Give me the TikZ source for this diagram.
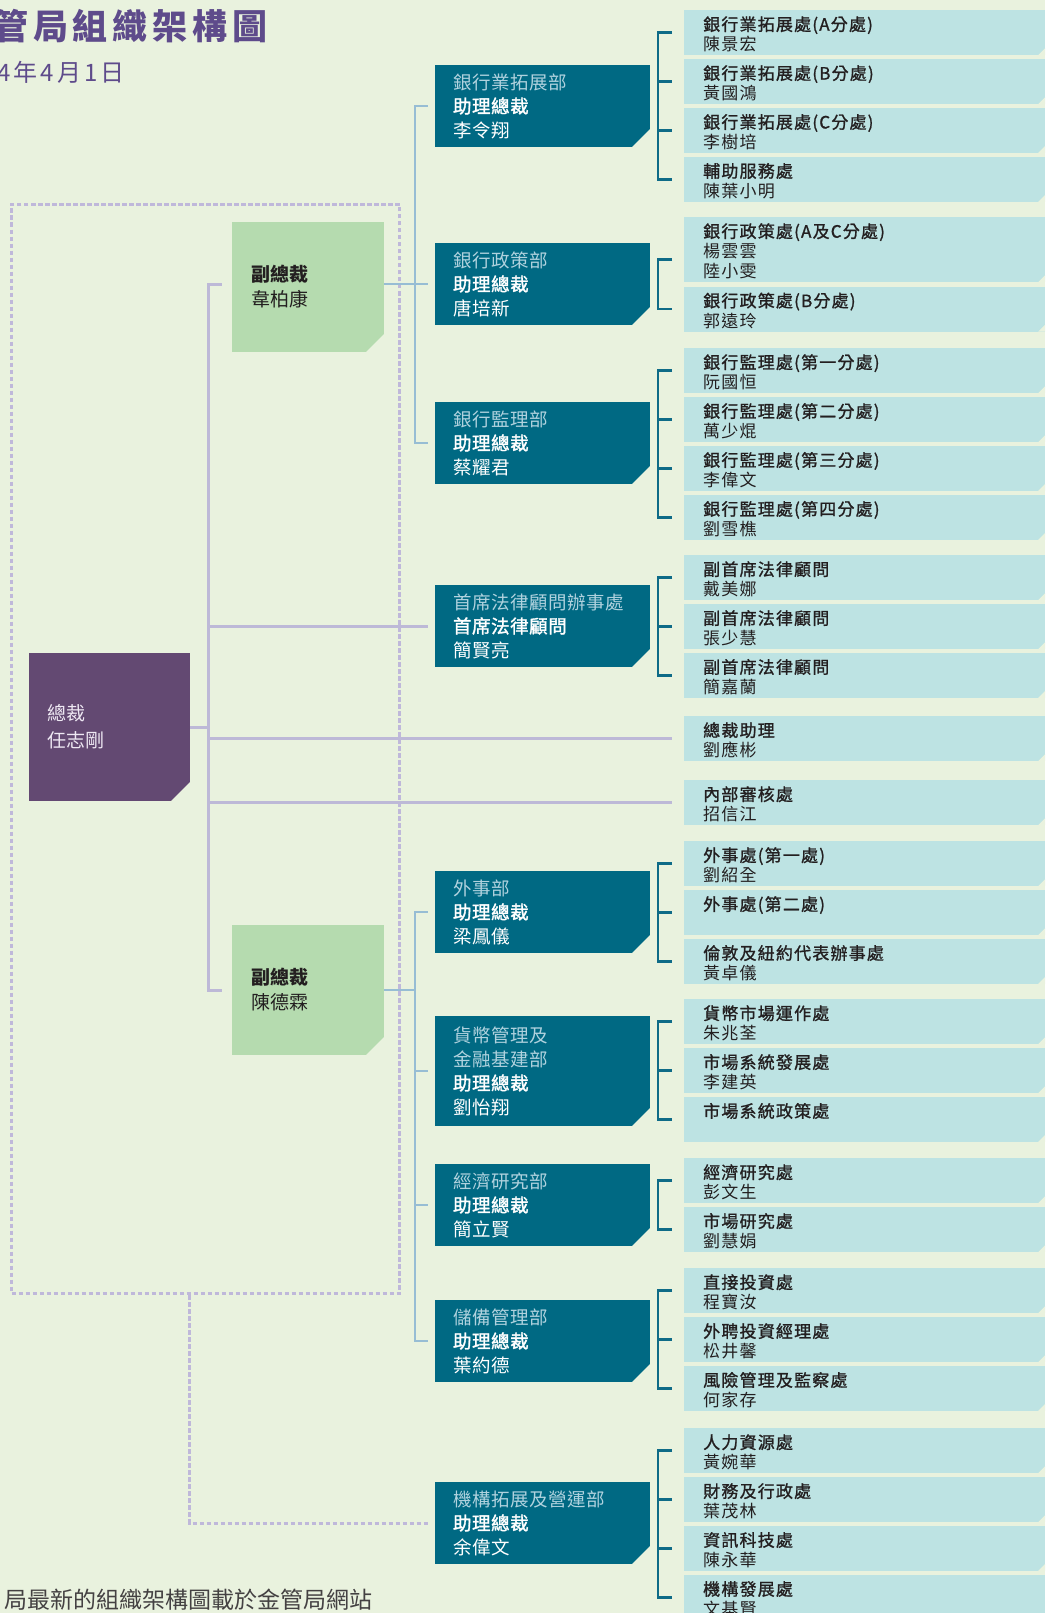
\documentclass[tikz,border=0pt]{standalone}
\usepackage{fontspec}
\setmainfont{Noto Sans CJK TC}
\usetikzlibrary{positioning}

\definecolor{bgcol}{HTML}{E9F2DE}
\definecolor{gmcol}{HTML}{634972}
\definecolor{gmtxt}{HTML}{EEE8F3}
\definecolor{vpcol}{HTML}{B5DBAF}
\definecolor{deptcol}{HTML}{006983}
\definecolor{depttxt}{HTML}{B0D2DE}
\definecolor{divcol}{HTML}{BDE3E3}
\definecolor{brkcol}{HTML}{0E6B87}
\definecolor{vplinecol}{HTML}{97BDD4}
\definecolor{trunkcol}{HTML}{BDB9D7}
\definecolor{dotcol}{HTML}{BFB8DA}
\definecolor{titlecol}{HTML}{5E4B8B}
\definecolor{txtcol}{HTML}{231F20}

\tikzset{
  cut/.style={path picture={\fill[bgcol] ([xshift=-#1]path picture bounding box.south east)
      -- (path picture bounding box.south east) -- ([yshift=#1]path picture bounding box.south east) -- cycle;}},
  gmbox/.style={fill=gmcol, text=gmtxt, inner xsep=18pt, text width=125pt, minimum height=148pt,
      align=left, font=\fontsize{19}{27}\selectfont, cut=19pt},
  vpbox/.style={fill=vpcol, text=txtcol, inner xsep=19pt, text width=114pt, minimum height=130pt,
      align=left, font=\fontsize{19}{25}\selectfont, cut=18pt},
  deptbox/.style={fill=deptcol, text=white, inner xsep=18pt, text width=179pt, minimum height=82pt,
      align=left, font=\fontsize{18.5}{24}\selectfont\addfontfeatures{LetterSpace=3}, cut=18pt},
  divbox/.style={fill=divcol, text=txtcol, anchor=north west, inner xsep=19pt, inner ysep=0pt,
      text width=323pt, text height=20.5pt, text depth=24.5pt, align=left,
      font=\fontsize{17}{20}\selectfont\addfontfeatures{LetterSpace=7}, cut=7pt},
  dotbox/.style={draw=dotcol, line width=3pt, dash pattern=on 4.5pt off 2.5pt, inner sep=0pt},
  trunk/.style={trunkcol, line width=3pt},
  vpline/.style={vplinecol, line width=2.5pt},
  brk/.style={brkcol, line width=2.5pt},
  dotline/.style={dotcol, line width=3pt, dash pattern=on 4.5pt off 2.5pt},
}
\newcommand{\dname}[1]{{\color{depttxt}#1}}
\newcommand{\dv}[1]{{\addfontfeatures{FakeBold=1.2}#1}}
\newcommand{\ap}[1]{{\addfontfeatures{FakeBold=1.6}#1}}

\begin{document}
\begin{tikzpicture}[x=1pt, y=-1pt]
  \useasboundingbox (0,0) rectangle (1045,1613);
  \clip (0,0) rectangle (1045,1613);
  \fill[bgcol] (0,0) rectangle (1045,1613);

  \node [anchor=west, inner sep=0pt, text=titlecol,
    font=\fontsize{35}{40}\selectfont\bfseries\addfontfeatures{LetterSpace=14}] (ttl) at (-7,26)
  {管局組織架構圖};
  \node [anchor=west, inner sep=0pt, text=titlecol,
    font=\fontsize{24}{28}\selectfont\addfontfeatures{LetterSpace=13}] (date) at (-3,72)
  {4年4月1日};
  \node [anchor=west, inner sep=0pt, text=txtcol!85,
    font=\fontsize{23}{26}\selectfont] (note) at (4,1600)
  {局最新的組織架構圖載於金管局網站};

  \node [dotbox, anchor=north west, minimum width=388pt, minimum height=1089pt] (grp) at (10,203) {};

  \node [gmbox] (gm) at (109.5,727)
  {總裁\\任志剛};
  \node [vpbox] (vp1) at (308,287)
  {\textbf{副總裁}\\韋柏康};
  \node [vpbox, below of=vp1, node distance=703pt] (vp2)
  {\textbf{副總裁}\\陳德霖};

  \node [deptbox] (biz) at (542.5,106)
  {\dname{銀行業拓展部}\\\ap{助理總裁}\\李令翔};
  \node [deptbox, below of=biz, node distance=178pt] (pol)
  {\dname{銀行政策部}\\\ap{助理總裁}\\唐培新};
  \node [deptbox, below of=pol, node distance=159pt] (sup)
  {\dname{銀行監理部}\\\ap{助理總裁}\\蔡耀君};
  \node [deptbox, below of=sup, node distance=183pt] (law)
  {\dname{首席法律顧問辦事處}\\\ap{首席法律顧問}\\簡賢亮};
  \node [deptbox, below of=law, node distance=286pt] (ext)
  {\dname{外事部}\\\ap{助理總裁}\\梁鳳儀};
  \node [deptbox, minimum height=110pt, below of=ext, node distance=159pt] (mon)
  {\dname{貨幣管理及}\\\dname{金融基建部}\\\ap{助理總裁}\\劉怡翔};
  \node [deptbox, below of=mon, node distance=134pt] (eco)
  {\dname{經濟研究部}\\\ap{助理總裁}\\簡立賢};
  \node [deptbox, below of=eco, node distance=136pt] (rsv)
  {\dname{儲備管理部}\\\ap{助理總裁}\\葉約德};
  \node [deptbox, below of=rsv, node distance=182pt] (inst)
  {\dname{機構拓展及營運部}\\\ap{助理總裁}\\余偉文};

  \node [divbox] (biz1) at (684,10) {\dv{銀行業拓展處(A分處)}\\陳景宏};
  \node [divbox, below=3.5pt of biz1] (biz2) {\dv{銀行業拓展處(B分處)}\\黃國鴻};
  \node [divbox, below=3.5pt of biz2] (biz3) {\dv{銀行業拓展處(C分處)}\\李樹培};
  \node [divbox, below=3.5pt of biz3] (biz4) {\dv{輔助服務處}\\陳葉小明};

  \node [divbox, text depth=44.5pt] (pol1) at (684,217) {\dv{銀行政策處(A及C分處)}\\楊雲雲\\陸小雯};
  \node [divbox, below=4pt of pol1] (pol2) {\dv{銀行政策處(B分處)}\\郭遠玲};

  \node [divbox] (sup1) at (684,348) {\dv{銀行監理處(第一分處)}\\阮國恒};
  \node [divbox, below=3.5pt of sup1] (sup2) {\dv{銀行監理處(第二分處)}\\萬少焜};
  \node [divbox, below=3.5pt of sup2] (sup3) {\dv{銀行監理處(第三分處)}\\李偉文};
  \node [divbox, below=3.5pt of sup3] (sup4) {\dv{銀行監理處(第四分處)}\\劉雪樵};

  \node [divbox] (law1) at (684,555) {\dv{副首席法律顧問}\\戴美娜};
  \node [divbox, below=3.5pt of law1] (law2) {\dv{副首席法律顧問}\\張少慧};
  \node [divbox, below=3.5pt of law2] (law3) {\dv{副首席法律顧問}\\簡嘉蘭};

  \node [divbox] (aide) at (684,716) {\dv{總裁助理}\\劉應彬};
  \node [divbox] (audit) at (684,780) {\dv{內部審核處}\\招信江};

  \node [divbox] (ext1) at (684,841) {\dv{外事處(第一處)}\\劉紹全};
  \node [divbox, below=3.5pt of ext1] (ext2) {\dv{外事處(第二處)}};
  \node [divbox, below=3.5pt of ext2] (ext3) {\dv{倫敦及紐約代表辦事處}\\黃卓儀};

  \node [divbox] (mon1) at (684,999) {\dv{貨幣市場運作處}\\朱兆荃};
  \node [divbox, below=3.5pt of mon1] (mon2) {\dv{市場系統發展處}\\李建英};
  \node [divbox, below=3.5pt of mon2] (mon3) {\dv{市場系統政策處}};

  \node [divbox] (eco1) at (684,1158) {\dv{經濟研究處}\\彭文生};
  \node [divbox, below=3.5pt of eco1] (eco2) {\dv{市場研究處}\\劉慧娟};

  \node [divbox] (rsv1) at (684,1268) {\dv{直接投資處}\\程寶汝};
  \node [divbox, below=3.5pt of rsv1] (rsv2) {\dv{外聘投資經理處}\\松井馨};
  \node [divbox, below=3.5pt of rsv2] (rsv3) {\dv{風險管理及監察處}\\何家存};

  \node [divbox] (inst1) at (684,1428) {\dv{人力資源處}\\黃婉華};
  \node [divbox, below=3.5pt of inst1] (inst2) {\dv{財務及行政處}\\葉茂林};
  \node [divbox, below=3.5pt of inst2] (inst3) {\dv{資訊科技處}\\陳永華};
  \node [divbox, below=3.5pt of inst3] (inst4) {\dv{機構發展處}\\文基賢};

  % president line
  \coordinate (tk) at ([xshift=-23pt]vp1.west |- pol.west);
  \draw [trunk] ([xshift=-10pt]vp1.west |- pol.west) -- (tk) |- ([xshift=-10pt]vp2.west);
  \draw [trunk] (gm.east) -- (gm.east -| tk);
  \draw [trunk] (law.west -| tk) -- ([xshift=-7pt]law.west);
  \draw [trunk] (aide.west -| tk) -- ([xshift=-12pt]aide.west);
  \draw [trunk] (audit.west -| tk) -- ([xshift=-12pt]audit.west);

  % vice presidents
  \coordinate (vx) at ([xshift=-20pt]pol.west);
  \draw [vpline] (vp1.east |- pol.west) -- ([xshift=-7pt]pol.west);
  \draw [vpline] ([xshift=-7pt]biz.west) -| (vx) |- ([xshift=-7pt]sup.west);
  \draw [vpline] (vp2.east) -- (vp2.east -| vx);
  \draw [vpline] ([xshift=-7pt]ext.west) -| ([xshift=-20pt]rsv.west) -- ([xshift=-7pt]rsv.west);
  \draw [vpline] ([xshift=-20pt]mon.west) -- ([xshift=-7pt]mon.west);
  \draw [vpline] ([xshift=-20pt]eco.west) -- ([xshift=-7pt]eco.west);

  \draw [dotline] ([xshift=-16pt]grp.south) |- ([xshift=-7pt]inst.west);

  % brackets
  \draw [brk] ([xshift=-12pt]biz1.west) -| ([xshift=-26pt]biz4.west) -- ([xshift=-12pt]biz4.west);
  \draw [brk] ([xshift=-26pt]biz2.west) -- ([xshift=-12pt]biz2.west);
  \draw [brk] ([xshift=-26pt]biz3.west) -- ([xshift=-12pt]biz3.west);
  \draw [brk] ([xshift=-12pt,yshift=-10pt]pol1.west) -| ([xshift=-26pt]pol2.west) -- ([xshift=-12pt]pol2.west);
  \draw [brk] ([xshift=-12pt]sup1.west) -| ([xshift=-26pt]sup4.west) -- ([xshift=-12pt]sup4.west);
  \draw [brk] ([xshift=-26pt]sup2.west) -- ([xshift=-12pt]sup2.west);
  \draw [brk] ([xshift=-26pt]sup3.west) -- ([xshift=-12pt]sup3.west);
  \draw [brk] ([xshift=-12pt]law1.west) -| ([xshift=-26pt]law3.west) -- ([xshift=-12pt]law3.west);
  \draw [brk] ([xshift=-26pt]law2.west) -- ([xshift=-12pt]law2.west);
  \draw [brk] ([xshift=-12pt]ext1.west) -| ([xshift=-26pt]ext3.west) -- ([xshift=-12pt]ext3.west);
  \draw [brk] ([xshift=-26pt]ext2.west) -- ([xshift=-12pt]ext2.west);
  \draw [brk] ([xshift=-12pt]mon1.west) -| ([xshift=-26pt]mon3.west) -- ([xshift=-12pt]mon3.west);
  \draw [brk] ([xshift=-26pt]mon2.west) -- ([xshift=-12pt]mon2.west);
  \draw [brk] ([xshift=-12pt]eco1.west) -| ([xshift=-26pt]eco2.west) -- ([xshift=-12pt]eco2.west);
  \draw [brk] ([xshift=-12pt]rsv1.west) -| ([xshift=-26pt]rsv3.west) -- ([xshift=-12pt]rsv3.west);
  \draw [brk] ([xshift=-26pt]rsv2.west) -- ([xshift=-12pt]rsv2.west);
  \draw [brk] ([xshift=-12pt]inst1.west) -| ([xshift=-26pt]inst4.west) -- ([xshift=-12pt]inst4.west);
  \draw [brk] ([xshift=-26pt]inst2.west) -- ([xshift=-12pt]inst2.west);
  \draw [brk] ([xshift=-26pt]inst3.west) -- ([xshift=-12pt]inst3.west);
\end{tikzpicture}
\end{document}
